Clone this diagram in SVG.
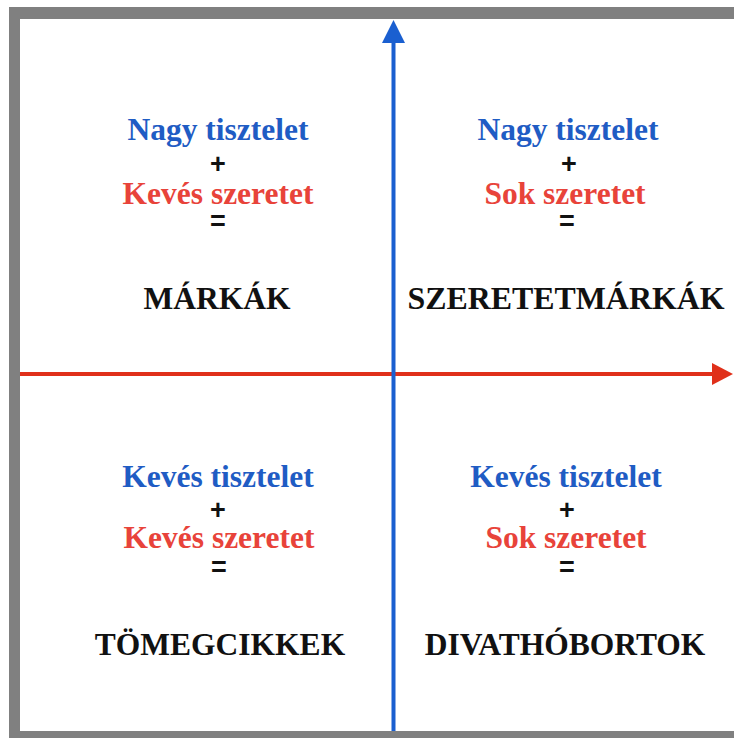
<svg xmlns="http://www.w3.org/2000/svg" width="734" height="738" viewBox="0 0 734 738">
  <style>
    .t { font-family: "Liberation Serif", "Times New Roman", serif; font-weight: bold; font-size: 31.5px; text-anchor: middle; }
    .op { font-family: "Liberation Sans", Arial, sans-serif; font-weight: bold; font-size: 27px; text-anchor: middle; fill: #111; }
    .blue { fill: #1f5cc4; }
    .red { fill: #e8433a; }
    .blk { fill: #111; }
  </style>
  <rect x="0" y="0" width="734" height="738" fill="#ffffff"/>
  <g id="frame" fill="#808080">
    <rect x="9" y="7" width="725" height="12"/>
    <rect x="9" y="7" width="11" height="731"/>
    <rect x="9" y="731" width="725" height="7"/>
  </g>
  <g id="connectors">
    <line x1="20" y1="374" x2="713" y2="374" stroke="#e0301a" stroke-width="4"/>
    <polygon points="712,363 733,374 712,385" fill="#e0301a"/>
    <line x1="393.5" y1="731" x2="393.5" y2="42" stroke="#1a5fd0" stroke-width="4"/>
    <polygon points="382,43 393.5,20 405,43" fill="#1a5fd0"/>
  </g>
  <g id="q-top-left">
    <text class="t blue" x="218" y="140">Nagy tisztelet</text>
    <text class="op" x="218" y="173">+</text>
    <text class="t red" x="218" y="204">Kevés szeretet</text>
    <text class="op" x="218" y="230">=</text>
    <text class="t blk" x="217" y="309">MÁRKÁK</text>
  </g>
  <g id="q-top-right">
    <text class="t blue" x="568" y="140">Nagy tisztelet</text>
    <text class="op" x="569" y="173">+</text>
    <text class="t red" x="565" y="204">Sok szeretet</text>
    <text class="op" x="567" y="230">=</text>
    <text class="t blk" x="566" y="309" textLength="317" lengthAdjust="spacingAndGlyphs">SZERETETMÁRKÁK</text>
  </g>
  <g id="q-bottom-left">
    <text class="t blue" x="218" y="487">Kevés tisztelet</text>
    <text class="op" x="218" y="519">+</text>
    <text class="t red" x="219" y="548">Kevés szeretet</text>
    <text class="op" x="219" y="576">=</text>
    <text class="t blk" x="220" y="655">TÖMEGCIKKEK</text>
  </g>
  <g id="q-bottom-right">
    <text class="t blue" x="566" y="487">Kevés tisztelet</text>
    <text class="op" x="567" y="519">+</text>
    <text class="t red" x="566" y="548">Sok szeretet</text>
    <text class="op" x="567" y="576">=</text>
    <text class="t blk" x="565" y="655">DIVATHÓBORTOK</text>
  </g>
</svg>
